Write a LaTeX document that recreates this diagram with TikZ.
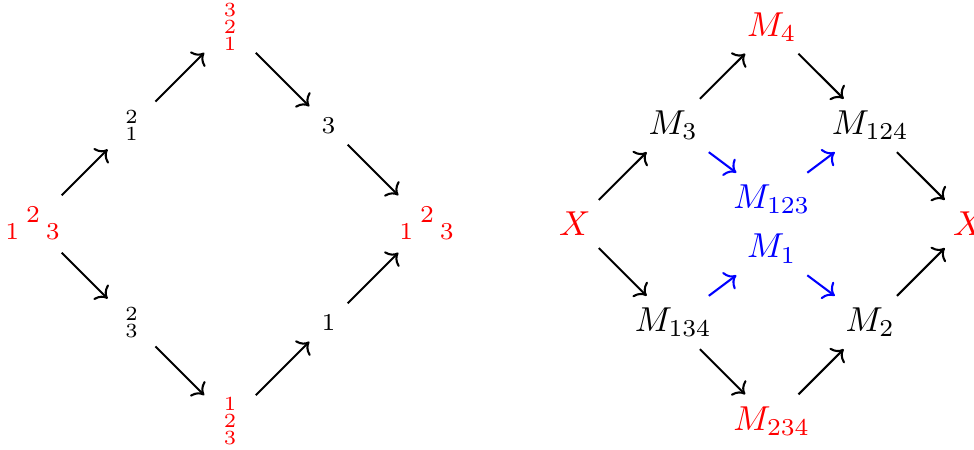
\documentclass[tikz,border=0pt]{standalone}
\usepackage{amsmath,amssymb}
\usetikzlibrary{arrows.meta,positioning}

\begin{document}
\begin{tikzpicture}[
    seta/.style={->, semithick},
    setaazul/.style={->, semithick, blue},
    pilha/.style={align=center, inner sep=0pt, font=\fontsize{5.8}{4.9}\selectfont},
    unico/.style={inner sep=0pt, font=\scriptsize},
    tri/.style={inner sep=0pt, minimum size=16.2pt},
    digito/.style={inner sep=0pt, red, font=\scriptsize},
    vermelho/.style={red},
    azul/.style={blue}
]
\useasboundingbox (-0.335,-2.294) rectangle (9.553,2.274);

% Diagrama da esquerda
\node[tri] (e0) at (0,0) {};
\node[digito] (e0a) at ([shift={(-0.21,-0.08)}]e0.center) {1};
\node[digito] (e0b) at ([shift={(0,0.1)}]e0.center) {2};
\node[digito] (e0c) at ([shift={(0.2,-0.08)}]e0.center) {3};

\node[pilha, minimum size=13.4pt] (e1) at (1,1) {2\\1};
\node[pilha, minimum size=14.5pt, red] (e2) at (2,2) {3\\2\\1};
\node[unico, minimum size=10.7pt] (e3) at (3,1) {3};

\node[tri] (e4) at (4,0) {};
\node[digito] (e4a) at ([shift={(-0.21,-0.08)}]e4.center) {1};
\node[digito] (e4b) at ([shift={(0,0.1)}]e4.center) {2};
\node[digito] (e4c) at ([shift={(0.2,-0.08)}]e4.center) {3};

\node[pilha, minimum size=13.4pt] (e5) at (1,-1) {2\\3};
\node[pilha, minimum size=14.5pt, red] (e6) at (2,-2) {1\\2\\3};
\node[unico, minimum size=10.7pt] (e7) at (3,-1) {1};

% Arcos da esquerda
\draw[seta] (e0) -- (e1);
\draw[seta] (e1) -- (e2);
\draw[seta] (e2) -- (e3);
\draw[seta] (e3) -- (e4);
\draw[seta] (e0) -- (e5);
\draw[seta] (e5) -- (e6);
\draw[seta] (e6) -- (e7);
\draw[seta] (e7) -- (e4);

% Diagrama da direita
\node[vermelho] (X) at (5.5,0) {$X$};
\node (M3) at (6.5,1) {$M_3$};
\node[vermelho] (M4) at (7.5,2) {$M_4$};
\node (M124) at (8.5,1) {$M_{124}$};
\node[vermelho] (Xf) at (9.5,0) {$X$};
\node (M134) at (6.5,-1) {$M_{134}$};
\node[vermelho] (M234) at (7.5,-2) {$M_{234}$};
\node (M2) at (8.5,-1) {$M_2$};
\node[azul] (M123) at (7.5,0.25) {$M_{123}$};
\node[azul] (M1) at (7.5,-0.25) {$M_1$};

% Arcos externos
\draw[seta] (X) -- (M3);
\draw[seta] (M3) -- (M4);
\draw[seta] (M4) -- (M124);
\draw[seta] (M124) -- (Xf);
\draw[seta] (X) -- (M134);
\draw[seta] (M134) -- (M234);
\draw[seta] (M234) -- (M2);
\draw[seta] (M2) -- (Xf);

% Arcos internos
\draw[setaazul] (M3) -- (M123);
\draw[setaazul] (M123) -- (M124);
\draw[setaazul] (M134) -- (M1);
\draw[setaazul] (M1) -- (M2);

\end{tikzpicture}
\end{document}
